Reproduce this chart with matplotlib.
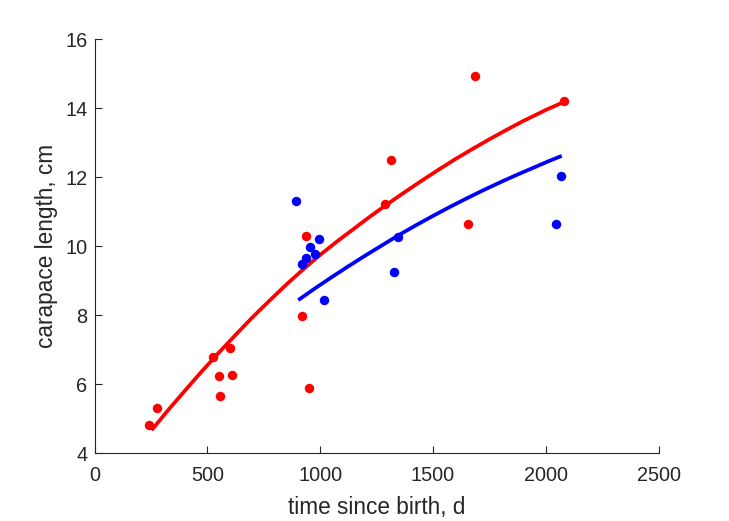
import matplotlib
matplotlib.use("Agg")
import matplotlib.pyplot as plt

# Red group observations
red_t = [243, 279, 527, 553, 558, 602, 611, 920, 938, 951, 1288, 1314, 1655, 1686, 2080]
red_L = [4.81, 5.30, 6.80, 6.23, 5.65, 7.04, 6.28, 7.99, 10.30, 5.88, 11.23, 12.50, 10.65, 14.93, 14.21]

# Blue group observations
blue_t = [894, 920, 938, 956, 978, 996, 1018, 1327, 1345, 2044, 2066]
blue_L = [11.32, 9.49, 9.67, 9.98, 9.78, 10.22, 8.45, 9.26, 10.27, 10.65, 12.04]

# Fitted growth curves
red_fit_t = [253, 325, 400, 475, 550, 625, 700, 775, 850, 925, 1000, 1075, 1150, 1225, 1300,
             1375, 1450, 1525, 1600, 1675, 1750, 1825, 1900, 2000, 2086]
red_fit_L = [4.67, 5.24, 5.81, 6.37, 6.91, 7.43, 7.94, 8.42, 8.89, 9.33, 9.75, 10.14, 10.51,
             10.88, 11.23, 11.57, 11.90, 12.22, 12.53, 12.82, 13.10, 13.37, 13.63, 13.95, 14.20]
blue_fit_t = [903, 975, 1050, 1125, 1200, 1275, 1350, 1425, 1500, 1575, 1650, 1725, 1800,
              1875, 1950, 2010, 2071]
blue_fit_L = [8.44, 8.77, 9.10, 9.42, 9.73, 10.03, 10.33, 10.61, 10.88, 11.14, 11.39, 11.63,
              11.86, 12.08, 12.29, 12.46, 12.62]

xticks = [0, 500, 1000, 1500, 2000, 2500]
yticks = [4, 6, 8, 10, 12, 14, 16]

plt.rcParams['font.family'] = ['Liberation Sans', 'DejaVu Sans']
fig = plt.figure(figsize=(7.29, 5.21), dpi=100)
ax = fig.add_axes([94.5/729, 1-453.3/521, (658.5-94.5)/729, (453.3-39.3)/521])

axcol = '#262626'
ax.plot(red_fit_t, red_fit_L, color='#ff0000', lw=2.7, solid_capstyle='butt', solid_joinstyle='round', zorder=2)
ax.plot(blue_fit_t, blue_fit_L, color='#0000ff', lw=2.7, solid_capstyle='butt', solid_joinstyle='round', zorder=2)
ax.plot(red_t, red_L, 'o', color='#ff0000', ms=6.8, mec='none', zorder=3)
ax.plot(blue_t, blue_L, 'o', color='#0000ff', ms=6.8, mec='none', zorder=3)

ax.set_xlim(0, 2500)
ax.set_ylim(4, 16)
ax.set_xticks(xticks)
ax.set_yticks(yticks)
ax.spines['top'].set_visible(False)
ax.spines['right'].set_visible(False)
for s in ['left', 'bottom']:
    ax.spines[s].set_color(axcol)
    ax.spines[s].set_linewidth(0.8)
ax.tick_params(direction='in', length=5, width=0.8, colors=axcol, labelsize=14.3)
ax.tick_params(axis='x', pad=9)
ax.tick_params(axis='y', pad=5)
ax.set_xlabel('time since birth, d', fontsize=16.3, color=axcol, labelpad=8)
ax.set_ylabel('carapace length, cm', fontsize=16.3, color=axcol, labelpad=5)

fig.savefig('out.png', dpi=100)
